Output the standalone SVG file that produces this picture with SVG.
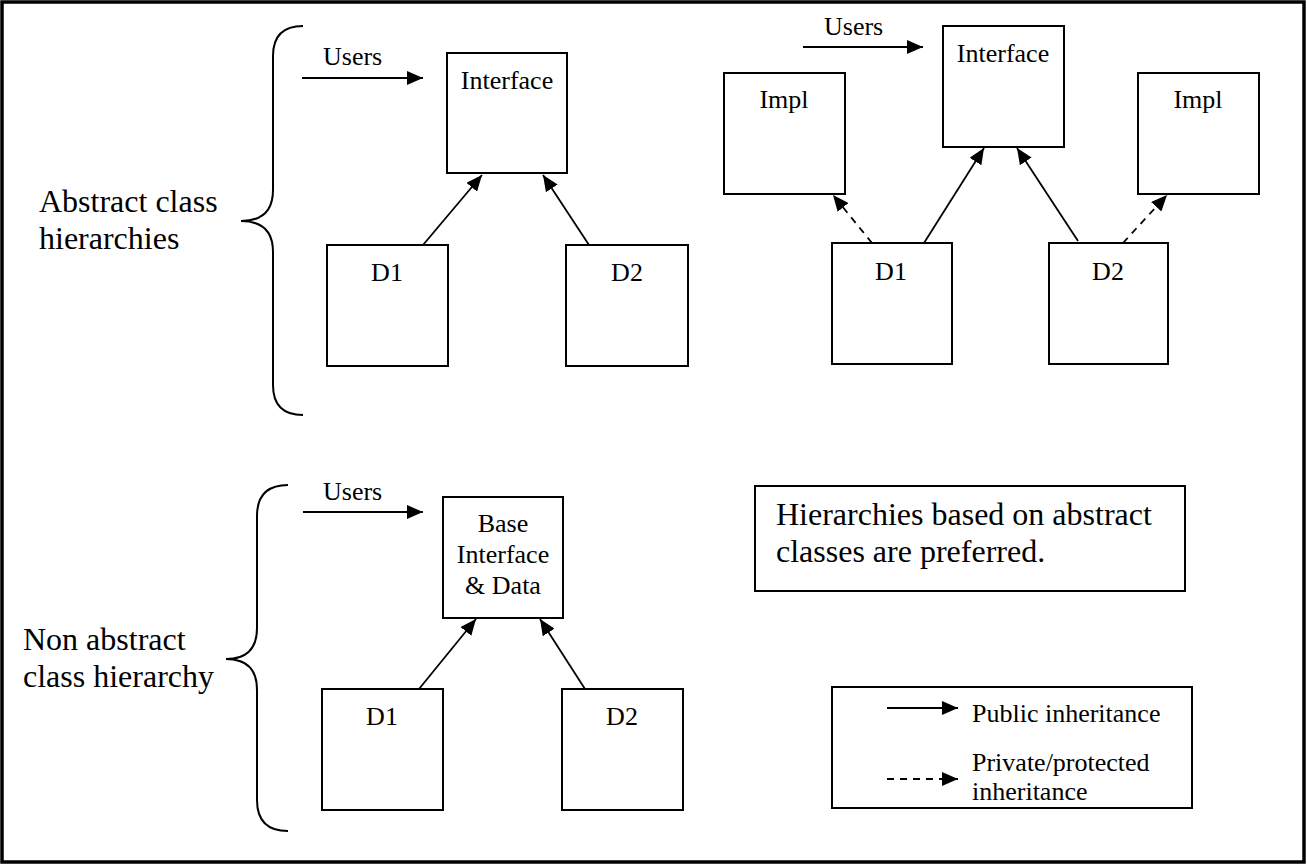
<svg xmlns="http://www.w3.org/2000/svg" width="1307" height="865" viewBox="0 0 1307 865">
<style>
  .frame{fill:#fff;stroke:#000;stroke-width:3.5}
  .box{fill:#fff;stroke:#000;stroke-width:2}
  .brace{fill:none;stroke:#000;stroke-width:2}
  .t{font-family:"Liberation Serif","Times New Roman",serif;font-size:26px;fill:#000}
  .tc{text-anchor:middle}
  .big{font-family:"Liberation Serif","Times New Roman",serif;font-size:32px;fill:#000}
  .c{fill:none;stroke:#000;stroke-width:1.8;marker-end:url(#ah)}
  .d{stroke-dasharray:7,6}
</style>
<defs>
  <marker id="ah" markerUnits="userSpaceOnUse" markerWidth="16" markerHeight="14" refX="16" refY="7" orient="auto">
    <path d="M0,0 L16,7 L0,14 z" fill="#000"/>
  </marker>
</defs>
<rect class="frame" x="2" y="2" width="1302" height="860"/>

<g id="braces">
  <path class="brace" d="M303,26 Q273,26 273,56 L273,190 Q273,221 241,221 Q273,221 273,252 L273,385 Q273,415 303,415"/>
  <path class="brace" d="M288,485 Q257,485 257,516 L257,628 Q257,659 226,659 Q257,659 257,690 L257,800 Q257,831 288,831"/>
</g>

<g id="labels">
  <text class="big" x="39" y="212">Abstract class</text>
  <text class="big" x="39" y="249">hierarchies</text>
  <text class="big" x="23" y="650">Non abstract</text>
  <text class="big" x="23" y="687">class hierarchy</text>
  <text class="t" x="323" y="65">Users</text>
  <text class="t" x="824" y="35">Users</text>
  <text class="t" x="323" y="500">Users</text>
</g>

<g id="n-tl-interface"><rect class="box" x="447" y="53" width="120" height="120"/><text class="t tc" x="507" y="89">Interface</text></g>
<g id="n-tl-d1"><rect class="box" x="327" y="245" width="121" height="121"/><text class="t tc" x="387" y="281">D1</text></g>
<g id="n-tl-d2"><rect class="box" x="566" y="245" width="122" height="121"/><text class="t tc" x="627" y="281">D2</text></g>

<g id="n-tr-interface"><rect class="box" x="943" y="26" width="121" height="121"/><text class="t tc" x="1003" y="62">Interface</text></g>
<g id="n-tr-impl1"><rect class="box" x="724" y="73" width="121" height="121"/><text class="t tc" x="784" y="108">Impl</text></g>
<g id="n-tr-impl2"><rect class="box" x="1138" y="73" width="121" height="121"/><text class="t tc" x="1198" y="108">Impl</text></g>
<g id="n-tr-d1"><rect class="box" x="832" y="243" width="120" height="121"/><text class="t tc" x="891" y="280">D1</text></g>
<g id="n-tr-d2"><rect class="box" x="1049" y="243" width="119" height="121"/><text class="t tc" x="1108" y="280">D2</text></g>

<g id="n-bl-base"><rect class="box" x="443" y="497" width="120" height="121"/>
  <text class="t tc" x="503" y="532">Base</text>
  <text class="t tc" x="503" y="563">Interface</text>
  <text class="t tc" x="503" y="594">&amp; Data</text></g>
<g id="n-bl-d1"><rect class="box" x="322" y="689" width="121" height="121"/><text class="t tc" x="382" y="725">D1</text></g>
<g id="n-bl-d2"><rect class="box" x="562" y="689" width="121" height="121"/><text class="t tc" x="622" y="725">D2</text></g>

<g id="n-note"><rect class="box" x="755" y="486" width="430" height="105"/>
  <text class="big" x="776" y="525">Hierarchies based on abstract</text>
  <text class="big" x="776" y="562">classes are preferred.</text></g>

<g id="n-legend"><rect class="box" x="832" y="687" width="360" height="121"/>
  <line class="c" x1="887" y1="708" x2="958" y2="708"/>
  <text class="t" x="972" y="722">Public inheritance</text>
  <line class="c d" x1="887" y1="779" x2="958" y2="779"/>
  <text class="t" x="972" y="771">Private/protected</text>
  <text class="t" x="972" y="800">inheritance</text></g>

<g id="connectors">
  <line class="c" x1="302" y1="78" x2="423" y2="78"/>
  <line class="c" x1="423" y1="245" x2="482" y2="175"/>
  <line class="c" x1="589" y1="245" x2="543" y2="175"/>

  <line class="c" x1="803" y1="47" x2="923" y2="47"/>
  <line class="c" x1="924" y1="243" x2="984" y2="148"/>
  <line class="c" x1="1078" y1="241" x2="1017" y2="148"/>
  <line class="c d" x1="872" y1="243" x2="833" y2="195"/>
  <line class="c d" x1="1123" y1="243" x2="1167" y2="195"/>

  <line class="c" x1="303" y1="512" x2="423" y2="512"/>
  <line class="c" x1="419" y1="689" x2="476" y2="619"/>
  <line class="c" x1="585" y1="689" x2="540" y2="619"/>
</g>
</svg>
